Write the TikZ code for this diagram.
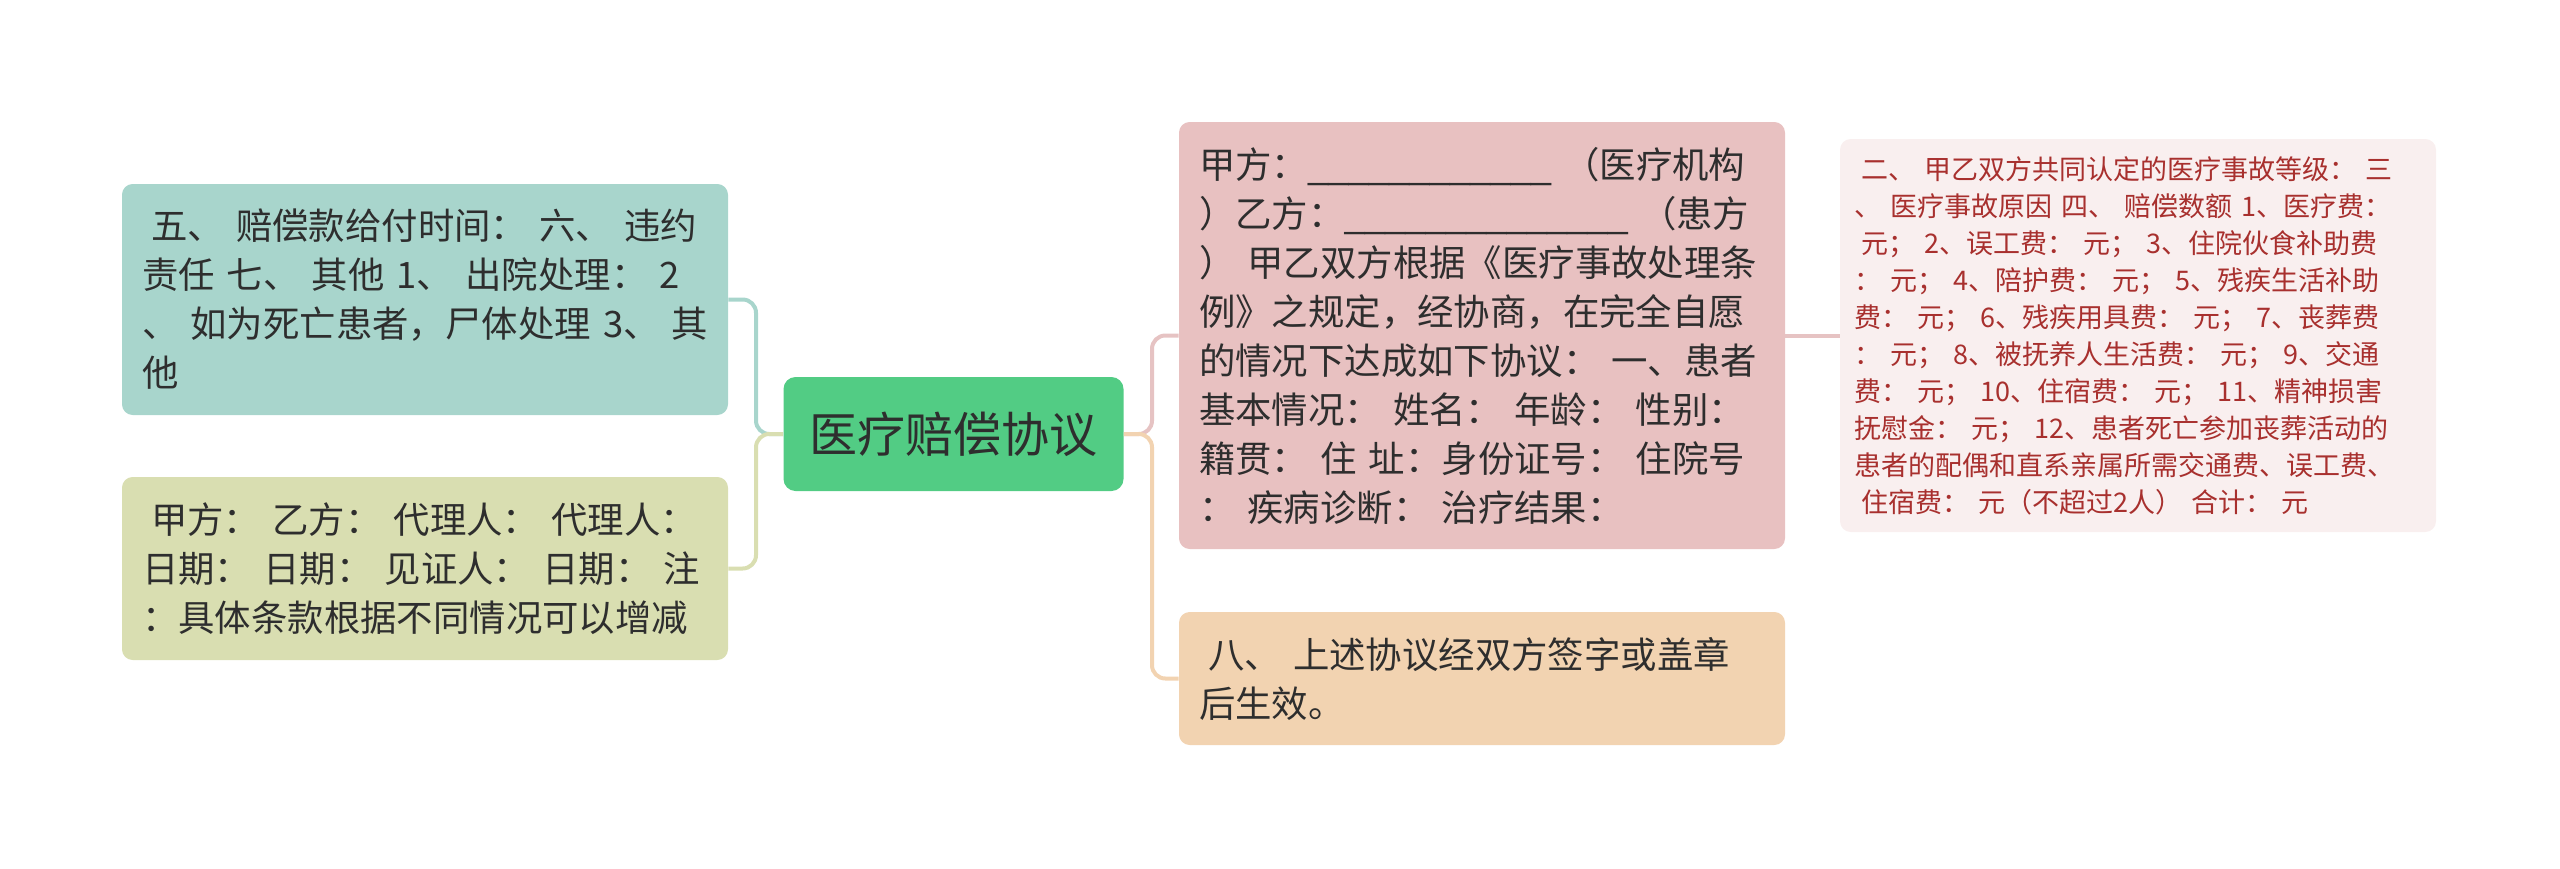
\documentclass[tikz,border=0pt]{standalone}
\usepackage{fontspec}
\setmainfont{Noto Sans CJK SC}
\newfontfamily\ulfont{Liberation Sans}
\definecolor{cgreen}{HTML}{52CC84}
\definecolor{cteal}{HTML}{A8D5CC}
\definecolor{colive}{HTML}{D9DEB1}
\definecolor{cpink}{HTML}{E8C1C1}
\definecolor{corange}{HTML}{F2D3B1}
\definecolor{cfar}{HTML}{F9EFEF}
\definecolor{ctext}{HTML}{2E2E2E}
\definecolor{cred}{HTML}{A8302E}
\definecolor{cpinkline}{HTML}{E6C3C3}
\newcommand\lsp{\hspace*{0.25em}}
\newcommand\mline[1]{\mbox{#1}}
\tikzset{
  box/.style={rectangle, rounded corners=8pt, inner ysep=0pt, align=left, text=ctext,
    font=\fontsize{27.3pt}{36.75pt}\selectfont},
  bigbox/.style={box, inner xsep=15pt, text width=454.5pt-30pt},
  farbox/.style={rectangle, rounded corners=8pt, inner xsep=11pt, inner ysep=0pt, align=left,
    text=cred, text width=447pt-22pt, font=\fontsize{20.25pt}{27.75pt}\selectfont},
  link/.style={line width=3pt, rounded corners=10pt}
}
\begin{document}
\begin{tikzpicture}[x=0.75pt,y=-0.75pt]
\useasboundingbox (0,0) rectangle (2560,868);
% central
\node[rectangle, rounded corners=9pt, fill=cgreen, text=ctext, minimum width=255pt, minimum height=85.5pt,
  font=\fontsize{36pt}{40pt}\selectfont, inner sep=0pt] (root) at (953.5,434) {医疗赔偿协议};
% left
\node[bigbox, fill=cteal, minimum height=173.25pt] (teal) at (425,299.5)
 {\mline{\lsp 五、 赔偿款给付时间： 六、 违约}\\\mline{责任 七、 其他 1、 出院处理： 2}\\\mline{、 如为死亡患者，尸体处理 3、 其}\\\mline{他}};
\node[bigbox, fill=colive, minimum height=137.25pt] (olive) at (425,568.5)
 {\mline{\lsp 甲方： 乙方： 代理人： 代理人：}\\\mline{日期： 日期： 见证人： 日期： 注}\\\mline{：具体条款根据不同情况可以增减}};
% right
\node[bigbox, fill=cpink, minimum height=320.25pt] (pink) at (1482,335.5)
 {\mline{甲方：{\ulfont\_\_\_\_\_\_\_\_\_\_\_\_} （医疗机构}\\\mline{）乙方：{\ulfont\_\_\_\_\_\_\_\_\_\_\_\_\_\_} （患方}\\\mline{） 甲乙双方根据《医疗事故处理条}\\\mline{例》之规定，经协商，在完全自愿}\\\mline{的情况下达成如下协议： 一、患者}\\\mline{基本情况： 姓名： 年龄： 性别：}\\\mline{籍贯： 住 址：身份证号： 住院号}\\\mline{： 疾病诊断： 治疗结果：}};
\node[bigbox, fill=corange, minimum height=99.75pt] (orange) at (1482,678.5)
 {\mline{\lsp 八、 上述协议经双方签字或盖章}\\\mline{后生效。}};
\node[farbox, fill=cfar, minimum height=294.75pt] (far) at (2138,335.5)
 {\mline{\lsp 二、 甲乙双方共同认定的医疗事故等级： 三}\\\mline{、 医疗事故原因 四、 赔偿数额 1、医疗费：}\\\mline{\lsp 元； 2、误工费： 元； 3、住院伙食补助费}\\\mline{： 元； 4、陪护费： 元； 5、残疾生活补助}\\\mline{费： 元； 6、残疾用具费： 元； 7、丧葬费}\\\mline{： 元； 8、被抚养人生活费： 元； 9、交通}\\\mline{费： 元； 10、住宿费： 元； 11、精神损害}\\\mline{抚慰金： 元； 12、患者死亡参加丧葬活动的}\\\mline{患者的配偶和直系亲属所需交通费、误工费、}\\\mline{\lsp 住宿费： 元（不超过2人） 合计： 元}};
% connectors
\coordinate (lj) at (756,434);
\coordinate (rj) at (1152,434);
\draw[link, cteal] (root.west) -- (lj) |- (teal.east);
\draw[link, colive] (root.west) -- (lj) |- (olive.east);
\draw[link, cpinkline] (root.east) -- (rj) |- (pink.west);
\draw[link, corange] (root.east) -- (rj) |- (orange.west);
\draw[line width=3pt, cpinkline] (pink.east) -- (far.west);
\end{tikzpicture}
\end{document}
